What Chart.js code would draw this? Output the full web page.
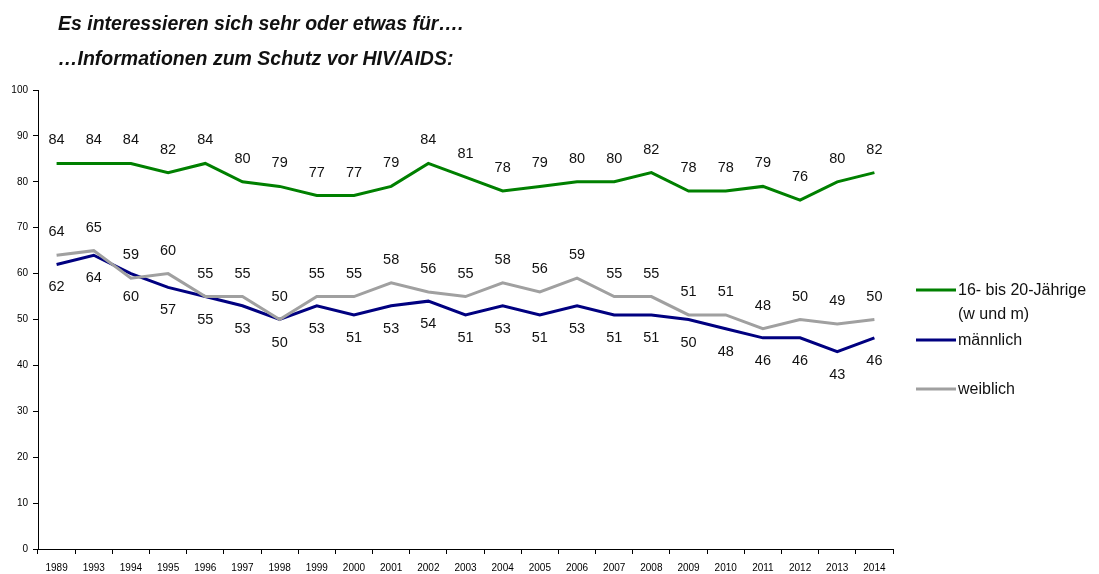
<!DOCTYPE html>
<html>
<head>
<meta charset="utf-8">
<script src="https://cdn.jsdelivr.net/npm/chart.js@4"></script>
<style>
  body { margin: 0; background: #fff; }
  #wrap { position: relative; width: 1099px; height: 574px; }
  .title { position: absolute; left: 58px; font: italic bold 19.5px "Liberation Sans", Arial, sans-serif; color: #111; white-space: nowrap; }
</style>
</head>
<body>
<div id="wrap">
  <div class="title" style="top:12px">Es interessieren sich sehr oder etwas für….</div>
  <div class="title" style="top:47px">…Informationen zum Schutz vor HIV/AIDS:</div>
  <canvas id="myChart" width="1099" height="574"></canvas>
</div>
<script>
var years = ['1989', '1993', '1994', '1995', '1996', '1997', '1998', '1999', '2000', '2001', '2002', '2003',
    '2004', '2005', '2006', '2007', '2008', '2009', '2010', '2011', '2012', '2013', '2014'];
var gesamt = [84, 84, 84, 82, 84, 80, 79, 77, 77, 79, 84, 81, 78, 79, 80, 80, 82, 78, 78, 79, 76, 80, 82];
var maennlich = [62, 64, 60, 57, 55, 53, 50, 53, 51, 53, 54, 51, 53, 51, 53, 51, 51, 50, 48, 46, 46, 43, 46];
var weiblich = [64, 65, 59, 60, 55, 55, 50, 55, 55, 58, 56, 55, 58, 56, 59, 55, 55, 51, 51, 48, 50, 49, 50];
var yTicks = [0, 10, 20, 30, 40, 50, 60, 70, 80, 90, 100];

// legend rows: y position of line, extra text lines
var legendRows = [
    { lines: ['16- bis 20-Jährige', '(w und m)'], y: 290 },
    { lines: ['männlich'], y: 340 },
    { lines: ['weiblich'], y: 389 }
];

var FONT = '"Liberation Sans", Arial, sans-serif';

// data labels: above or below the point
var labelPlugin = {
    id: 'valueLabels',
    afterDatasetsDraw: function (chart) {
        var ctx = chart.ctx;
        ctx.save();
        ctx.font = '14.5px ' + FONT;
        ctx.fillStyle = '#111';
        ctx.textAlign = 'center';
        ctx.textBaseline = 'middle';
        chart.data.datasets.forEach(function (ds, i) {
            var meta = chart.getDatasetMeta(i);
            meta.data.forEach(function (pt, j) {
                var dy = ds.labelPos == 'below' ? 23 : -23;
                ctx.fillText(ds.data[j], pt.x, pt.y + dy);
            });
        });
        ctx.restore();
    }
};

var legendPlugin = {
    id: 'sideLegend',
    afterDraw: function (chart) {
        var ctx = chart.ctx;
        ctx.save();
        ctx.font = '16px ' + FONT;
        ctx.fillStyle = '#111';
        ctx.textBaseline = 'middle';
        chart.data.datasets.forEach(function (ds, i) {
            var row = legendRows[i];
            ctx.strokeStyle = ds.borderColor;
            ctx.lineWidth = 3;
            ctx.beginPath();
            ctx.moveTo(916, row.y);
            ctx.lineTo(956, row.y);
            ctx.stroke();
            row.lines.forEach(function (t, k) {
                ctx.fillText(t, 958, row.y + 1 + k * 24);
            });
        });
        ctx.restore();
    }
};

var data = {
    labels: years,
    datasets: [
        {
            label: '16- bis 20-Jährige (w und m)',
            data: gesamt,
            borderColor: '#008000',
            borderWidth: 3,
            pointRadius: 0,
            labelPos: 'above',
            order: 1
        }, {
            label: 'männlich',
            data: maennlich,
            borderColor: '#000080',
            borderWidth: 3,
            pointRadius: 0,
            labelPos: 'below',
            order: 2
        }, {
            label: 'weiblich',
            data: weiblich,
            borderColor: '#a0a0a0',
            borderWidth: 3,
            pointRadius: 0,
            labelPos: 'above',
            order: 0
        }
    ]
};

var config = {
    type: 'line',
    data: data,
    options: {
        responsive: false,
        animation: false,
        layout: { padding: { top: 90, right: 206, left: 0, bottom: 0 } },
        plugins: {
            legend: { display: false },
            tooltip: { enabled: false }
        },
        scales: {
            x: {
                offset: true,
                grid: { offset: true, drawOnChartArea: false, drawTicks: true, tickLength: 5, color: '#000' },
                border: { color: '#000', width: 1 },
                ticks: { color: '#000', font: { size: 10, family: FONT }, maxRotation: 0, autoSkip: false, padding: 8 },
                afterFit: function (scale) { scale.height = 25; }
            },
            y: {
                min: 0,
                max: 100,
                afterBuildTicks: function (scale) {
                    scale.ticks = yTicks.map(function (v) { return { value: v }; });
                },
                grid: { drawOnChartArea: false, drawTicks: true, tickLength: 5, color: '#000' },
                border: { color: '#000', width: 1 },
                ticks: { color: '#000', font: { size: 10, family: FONT }, padding: 5 },
                afterFit: function (scale) { scale.width = 38; }
            }
        }
    },
    plugins: [labelPlugin, legendPlugin]
};

var myChart = new Chart(document.getElementById('myChart'), config);
</script>
</body>
</html>
